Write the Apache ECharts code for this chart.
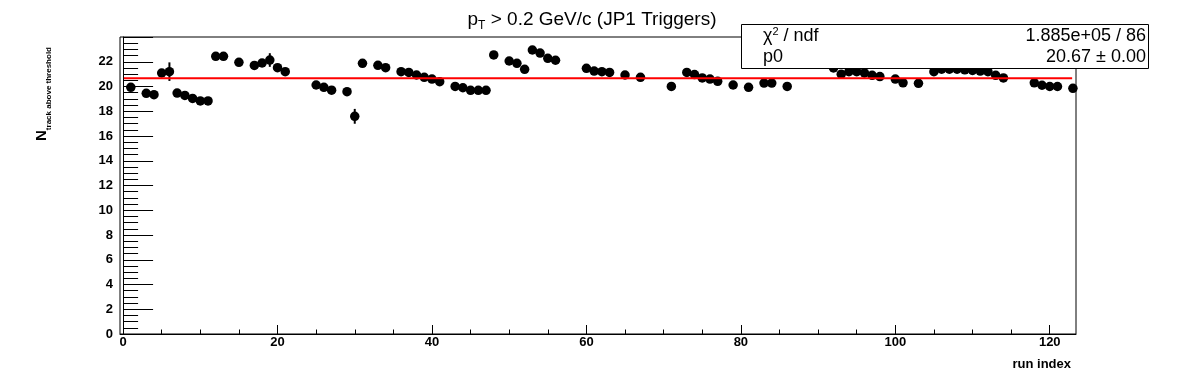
<!DOCTYPE html>
<html>
<head>
<meta charset="utf-8">
<script src="https://cdn.jsdelivr.net/npm/echarts@6/dist/echarts.min.js"></script>
<style>
html,body{margin:0;padding:0;background:#fff;}
#chart{width:1196px;height:372px;}
</style>
</head>
<body>
<div id="chart"></div>
<script>
// run index of each point
var runIndex = [1,3,4,5,6,7,8,9,10,11,12,13,15,17,18,19,20,21,
  25,26,27,29,30,31,33,34,36,37,38,39,40,41,
  43,44,45,46,47,48,50,51,52,53,54,55,56,
  60,61,62,63,65,67,
  71,73,74,75,76,77,79,81,83,84,86,
  92,93,94,95,96,97,98,
  100,101,103,105,106,107,108,109,110,111,112,
  113,114,118,119,120,121,123];
// N track above threshold
var nTracks = [19.93,19.45,19.34,21.09,21.2,19.47,19.28,19.04,18.83,18.83,22.44,22.44,21.95,21.7,21.9,22.14,21.52,21.2,
  20.12,19.93,19.7,19.58,17.59,21.87,21.71,21.52,21.2,21.14,20.93,20.74,20.6,20.39,
  20.01,19.9,19.69,19.69,19.69,22.55,22.06,21.87,21.39,22.95,22.7,22.28,22.12,
  21.47,21.25,21.2,21.14,20.93,20.74,
  20.01,21.14,20.96,20.69,20.6,20.42,20.12,19.93,20.28,20.28,20.01,
  21.5,21.0,21.2,21.2,21.1,20.9,20.8,
  20.6,20.3,20.26,21.2,21.4,21.4,21.4,21.35,21.3,21.25,21.2,
  20.9,20.69,20.3,20.1,20.0,20.0,19.85];
// error bars
var errors = [0.1,0.1,0.1,0.1,0.75,0.1,0.1,0.1,0.1,0.1,0.1,0.1,0.1,0.1,0.1,0.55,0.1,0.1,
  0.1,0.1,0.1,0.1,0.6,0.1,0.1,0.1,0.1,0.1,0.1,0.1,0.1,0.1,
  0.1,0.1,0.1,0.1,0.1,0.1,0.1,0.1,0.1,0.1,0.1,0.1,0.1,
  0.1,0.1,0.1,0.1,0.1,0.1,
  0.1,0.1,0.1,0.1,0.1,0.1,0.1,0.1,0.1,0.1,0.1,
  0.1,0.1,0.1,0.1,0.1,0.1,0.1,
  0.1,0.1,0.1,0.1,0.1,0.1,0.1,0.1,0.1,0.1,0.1,
  0.1,0.1,0.1,0.1,0.1,0.1,0.1];
var fitValue = 20.67;
var fitRange = [0.1, 122.9];
var xMajorTicks = [0,20,40,60,80,100,120];
var xMinorTicks = [5,10,15,25,30,35,45,50,55,65,70,75,85,90,95,105,110,115];
var statLabels = ['χ2 / ndf', 'p0'];
var statValues = ['1.885e+05 / 86', '20.67 ± 0.00'];
var titleText = ['p', 'T', ' > 0.2 GeV/c (JP1 Triggers)'];
var yTitle = ['N', 'track above threshold'];
var xTitle = 'run index';

var pts = runIndex.map(function(x, i){ return [x, nTracks[i]]; });
var errPts = runIndex.map(function(x, i){ return [x, nTracks[i], errors[i]]; });

var FONT = 'Liberation Sans, Arial, Helvetica, sans-serif';
var chart = echarts.init(document.getElementById('chart'), null, {renderer:'canvas'});
var option = {
  animation: false,
  backgroundColor: '#fff',
  grid: {left:120, right:120, top:37, bottom:38, show:true, borderColor:'#000', borderWidth:1, containLabel:false},
  xAxis: [{
    type:'value', min:-0.4, max:123.4, position:'bottom',
    axisLine:{show:true, onZero:false, lineStyle:{color:'#000', width:1}},
    axisTick:{show:true, inside:true, length:9, customValues: xMajorTicks, lineStyle:{color:'#000'}},
    axisLabel:{show:true, customValues: xMajorTicks, margin:2, color:'#000', fontFamily:FONT, fontWeight:'bold', fontSize:13},
    splitLine:{show:false}
  },{
    type:'value', min:-0.4, max:123.4, position:'bottom', gridIndex:0,
    axisLine:{show:false, onZero:false},
    axisTick:{show:true, inside:true, length:4.5, customValues: xMinorTicks, lineStyle:{color:'#000'}},
    axisLabel:{show:false},
    splitLine:{show:false}
  }],
  yAxis: {
    type:'value', min:0, max:24, interval:2,
    axisLine:{show:true, lineStyle:{color:'#000', width:1}},
    axisTick:{show:true, inside:true, length:30, lineStyle:{color:'#000'}},
    minorTick:{show:true, splitNumber:4, length:15, lineStyle:{color:'#000'}},
    axisLabel:{margin:7, color:'#000', fontFamily:FONT, fontWeight:'bold', fontSize:13,
      formatter:function(v){ return v >= 24 ? '' : String(v); }},
    splitLine:{show:false}
  },
  series: [
    {
      type:'custom', xAxisIndex:0, yAxisIndex:0, z:2,
      data: errPts,
      renderItem: function(params, api){
        var x = api.value(0), y = api.value(1), e = api.value(2);
        var p1 = api.coord([x, y - e]);
        var p2 = api.coord([x, y + e]);
        return {type:'line', shape:{x1:p1[0], y1:p1[1], x2:p2[0], y2:p2[1]}, style:{stroke:'#000', lineWidth:2}};
      }
    },
    {
      type:'scatter', xAxisIndex:0, yAxisIndex:0, z:3,
      symbol:'circle', symbolSize:9.5,
      itemStyle:{color:'#000', opacity:1},
      data: pts
    },
    {
      type:'line', xAxisIndex:0, yAxisIndex:0, z:4,
      showSymbol:false, symbol:'none',
      lineStyle:{color:'#ff0000', width:2, opacity:1},
      data: [[fitRange[0], fitValue],[fitRange[1], fitValue]]
    }
  ],
  graphic: [
    {
      type:'text', x:592, y:19.5, z:10,
      style:{
        text:'{a|' + titleText[0] + '}{b|' + titleText[1] + '}{a|' + titleText[2] + '}',
        textAlign:'center', textVerticalAlign:'middle',
        rich:{
          a:{fontFamily:FONT, fontSize:19, lineHeight:24, fill:'#000', verticalAlign:'middle'},
          b:{fontFamily:FONT, fontSize:12, lineHeight:12, fill:'#000', verticalAlign:'bottom'}
        }
      }
    },
    {
      type:'rect', z:10,
      shape:{x:741.5, y:24.5, width:407, height:44},
      style:{fill:'#fff', stroke:'#000', lineWidth:1}
    },
    {
      type:'text', x:763, y:36, z:11,
      style:{
        text:'{a|χ}{s|2}{a| / ndf}',
        textAlign:'left', textVerticalAlign:'middle',
        rich:{
          a:{fontFamily:FONT, fontSize:18, lineHeight:20, fill:'#000', verticalAlign:'middle'},
          s:{fontFamily:FONT, fontSize:11, lineHeight:11, fill:'#000', verticalAlign:'top'}
        }
      }
    },
    {
      type:'text', x:763, y:57, z:11,
      style:{text: statLabels[1], fontFamily:FONT, fontSize:18, fill:'#000', textAlign:'left', textVerticalAlign:'middle'}
    },
    {
      type:'text', x:1146, y:36, z:11,
      style:{text: statValues[0], fontFamily:FONT, fontSize:18, fill:'#000', textAlign:'right', textVerticalAlign:'middle'}
    },
    {
      type:'text', x:1146, y:57, z:11,
      style:{text: statValues[1], fontFamily:FONT, fontSize:18, fill:'#000', textAlign:'right', textVerticalAlign:'middle'}
    },
    {
      type:'text', x:1071, y:364, z:10,
      style:{text: xTitle, fontFamily:FONT, fontSize:13, fontWeight:'bold', fill:'#000', textAlign:'right', textVerticalAlign:'middle'}
    },
    {
      type:'text', x:42, y:47, rotation:Math.PI/2, z:10,
      style:{
        text:'{n|' + yTitle[0] + '}{s|' + yTitle[1] + '}',
        textAlign:'right', textVerticalAlign:'middle',
        rich:{
          n:{fontFamily:FONT, fontSize:15, fontWeight:'bold', lineHeight:22, fill:'#000', verticalAlign:'middle'},
          s:{fontFamily:FONT, fontSize:8, fontWeight:'bold', lineHeight:8, fill:'#000', verticalAlign:'bottom'}
        }
      }
    }
  ]
};
chart.setOption(option);
</script>
</body>
</html>
